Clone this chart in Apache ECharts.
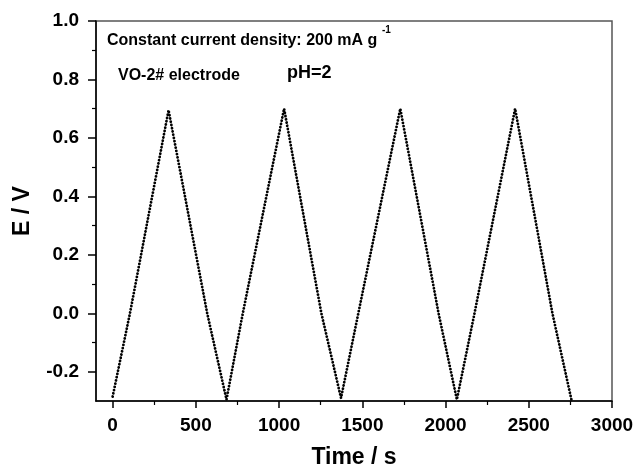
<!DOCTYPE html>
<html><head><meta charset="utf-8">
<script src="https://cdn.jsdelivr.net/npm/echarts@6/dist/echarts.min.js"></script>
<style>html,body{margin:0;padding:0;background:#fff}#c{width:634px;height:467px}</style>
</head><body><div id="c"></div>
<script>
// Data (vertices of the galvanostatic charge/discharge curve)
const timeS = [0, 104, 336, 568, 684, 782, 1030, 1254, 1372, 1476, 1728, 1958, 2068, 2174, 2418, 2642, 2758];
const potentialV = [-0.285, 0.0, 0.695, 0.0, -0.295, 0.0, 0.70, 0.0, -0.29, 0.0, 0.70, 0.0, -0.295, 0.0, 0.70, 0.0, -0.30];
const xMajorTicks = [0, 500, 1000, 1500, 2000, 2500, 3000];
const xMinorTicks = [250, 750, 1250, 1750, 2250, 2750];
const yMajorTicks = [-0.2, 0.0, 0.2, 0.4, 0.6, 0.8, 1.0];
const yMinorTicks = [-0.1, 0.1, 0.3, 0.5, 0.7, 0.9];
const xTitle = 'Time / s';
const yTitle = 'E / V';
const note1 = 'Constant current density: 200 mA g';
const note1Sup = '-1';
const note2 = 'VO-2# electrode';
const note3 = 'pH=2';

const FF = '"Liberation Sans", Arial, sans-serif';
const chart = echarts.init(document.getElementById('c'), null, {renderer: 'canvas'});
const seriesData = timeS.map((t, i) => [t, potentialV[i]]);

chart.setOption({
  animation: false,
  backgroundColor: '#fff',
  grid: {left: 96, right: 22, top: 21, bottom: 66, containLabel: false, outerBoundsMode: 'none',
         show: true, borderColor: '#555', borderWidth: 1.5, backgroundColor: 'transparent'},
  xAxis: [{
    type: 'value', min: -100, max: 3000, position: 'bottom',
    name: xTitle, nameLocation: 'middle', nameGap: 45,
    nameTextStyle: {fontFamily: FF, fontWeight: 'bold', fontSize: 23, color: '#000'},
    axisLine: {show: true, onZero: false, lineStyle: {color: '#000', width: 1.5}},
    axisTick: {show: true, inside: false, length: 7, customValues: xMajorTicks, lineStyle: {color: '#000', width: 1.5}},
    axisLabel: {show: true, customValues: xMajorTicks, margin: 15, fontFamily: FF, fontWeight: 'bold', fontSize: 19, color: '#000',
      formatter: v => String(v)},
    splitLine: {show: false}
  }, {
    type: 'value', min: -100, max: 3000, position: 'bottom', gridIndex: 0,
    axisLine: {show: false, onZero: false},
    axisTick: {show: true, inside: false, length: 4, customValues: xMinorTicks, lineStyle: {color: '#000', width: 1.2}},
    axisLabel: {show: false},
    splitLine: {show: false}
  }],
  yAxis: [{
    type: 'value', min: -0.3, max: 1.0, position: 'left',
    name: yTitle, nameLocation: 'middle', nameGap: 62, nameRotate: 90,
    nameTextStyle: {fontFamily: FF, fontWeight: 'bold', fontSize: 23, color: '#000'},
    axisLine: {show: true, onZero: false, lineStyle: {color: '#000', width: 1.5}},
    axisTick: {show: true, inside: false, length: 8, customValues: yMajorTicks, lineStyle: {color: '#000', width: 1.5}},
    axisLabel: {show: true, customValues: yMajorTicks, margin: 17, fontFamily: FF, fontWeight: 'bold', fontSize: 19, color: '#000',
      formatter: v => v.toFixed(1)},
    splitLine: {show: false}
  }, {
    type: 'value', min: -0.3, max: 1.0, position: 'left',
    axisLine: {show: false, onZero: false},
    axisTick: {show: true, inside: false, length: 4, customValues: yMinorTicks, lineStyle: {color: '#000', width: 1.2}},
    axisLabel: {show: false},
    splitLine: {show: false}
  }],
  series: [{
    type: 'line', xAxisIndex: 0, yAxisIndex: 0,
    data: seriesData, showSymbol: false, clip: false,
    lineStyle: {color: '#000', width: 2.8, type: [0.1, 3.2], cap: 'round', join: 'round'}
  }],
  graphic: [
    {type: 'text', left: 107, top: 33, style: {text: note1, font: 'bold 16px ' + FF, fill: '#000'}},
    {type: 'text', left: 382, top: 25, style: {text: note1Sup, font: 'bold 10px ' + FF, fill: '#000'}},
    {type: 'text', left: 118, top: 68, style: {text: note2, font: 'bold 16px ' + FF, fill: '#000'}},
    {type: 'text', left: 287, top: 64, style: {text: note3, font: 'bold 18px ' + FF, fill: '#000'}}
  ]
});
</script>
</body></html>
